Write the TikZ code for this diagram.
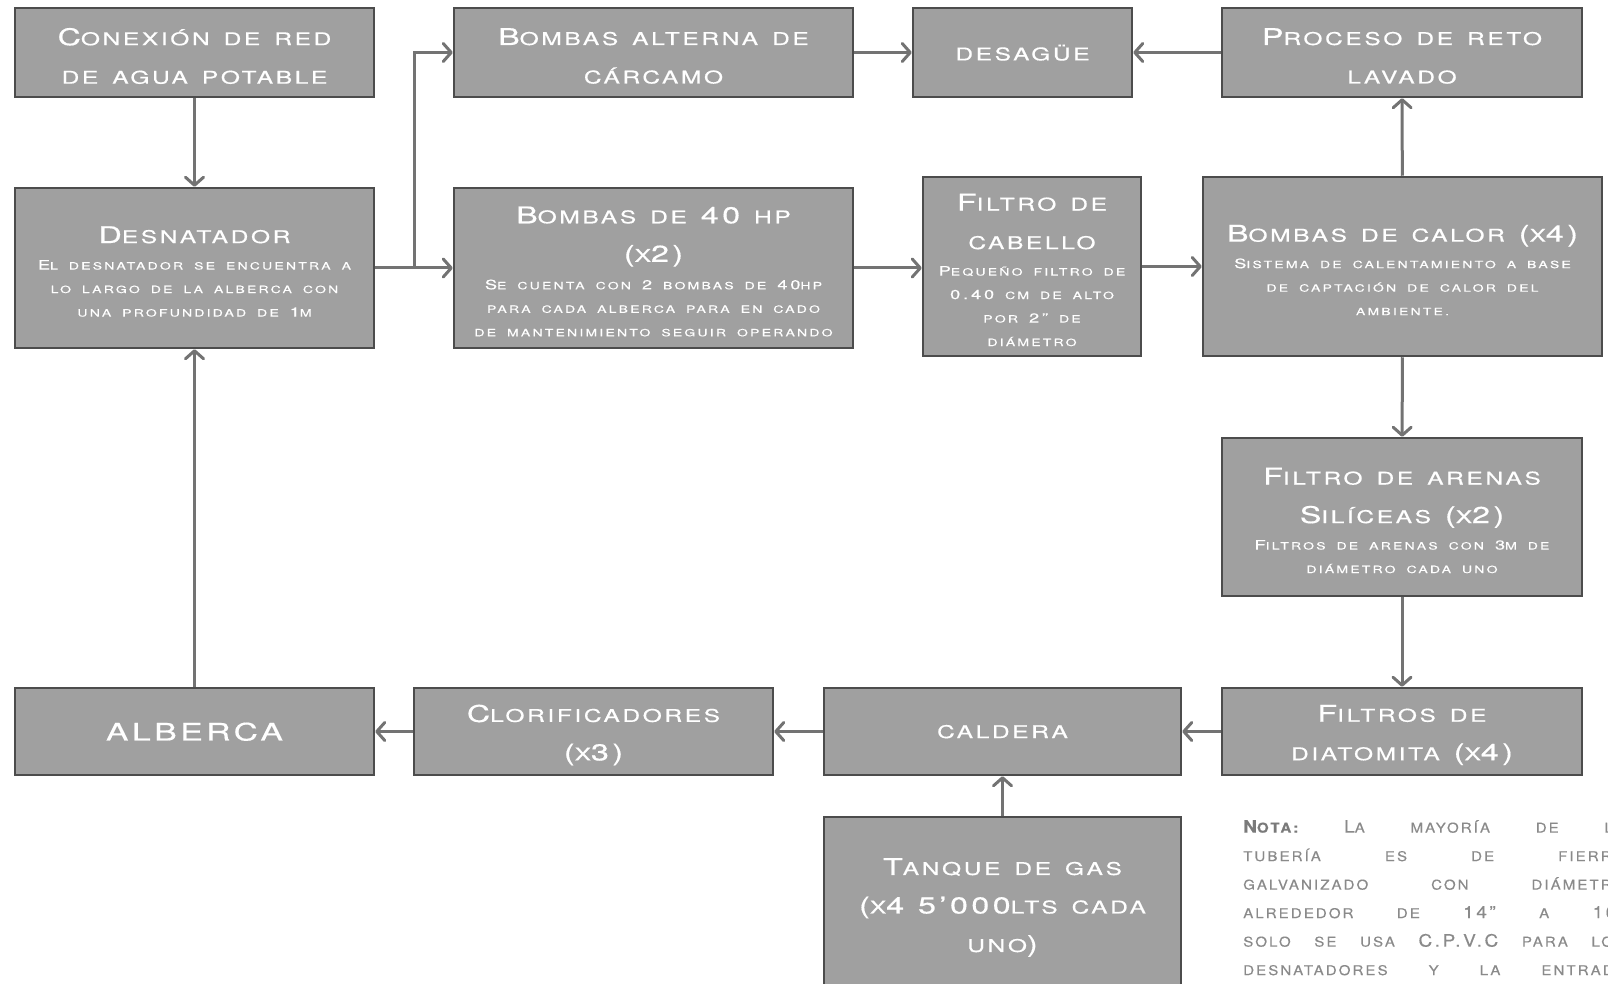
\documentclass[tikz,border=0pt]{standalone}
\usepackage{fontspec}
\usetikzlibrary{arrows.meta}
% wide, letter-spaced capitals; small capitals are set as smaller capitals
\newfontfamily\bank[FakeStretch=1.4,LetterSpace=15,FakeBold=0.6]{TeX Gyre Heros}
\newfontfamily\bankd[FakeStretch=1.4,LetterSpace=22,FakeBold=0.4]{TeX Gyre Heros}
\newfontfamily\banknote[FakeStretch=1.12,LetterSpace=15,FakeBold=0.3]{TeX Gyre Heros}
\definecolor{boxgray}{HTML}{A0A0A0}
\definecolor{edgegray}{HTML}{4C4C4C}
\definecolor{linegray}{HTML}{737373}
\definecolor{notegray}{HTML}{8A8A8A}
\definecolor{notedark}{HTML}{7A7A7A}
\newcommand\kbig{23}
\newcommand\ttl{\bank\fontsize{17.5}{38.5}\selectfont\spaceskip=14pt\renewcommand\kbig{23}}
\newcommand\dsc{\bankd\fontsize{10}{23.5}\selectfont\spaceskip=11pt\renewcommand\kbig{13}}
\newcommand\nte{\banknote\fontsize{13.5}{28.5}\selectfont\spaceskip=10pt plus 40pt minus 2pt\renewcommand\kbig{17}}
% full-size capital inside small-capital text
\newcommand\K[1]{{\fontsize{\kbig}{\kbig}\selectfont #1}}
% wide word gaps in the box titles
\newcommand\titlespace{\spaceskip=14pt\relax}
% lowers the text block a little inside its box
\newcommand\lowertext{\par\vspace{-7pt}}
\begin{document}
\begin{tikzpicture}[x=1pt,y=-1pt,
  box/.style={draw=edgegray,line width=2.5pt,fill=boxgray,text=white,
    inner sep=0pt,align=center,font=\ttl,
    execute at begin node=\titlespace,
    execute at end node=\lowertext},
  flow/.style={draw=linegray,line width=3pt,
    -{Straight Barb[length=8pt,width=18pt,round]}}]
\useasboundingbox (0,0) rectangle (1608,984);

% top row
\node[box,minimum width=359,minimum height=89,text width=355] (conex) at (194.5,52.5)
  {\K{C}ONEXIÓN DE RED\\ DE AGUA POTABLE};
\node[box,minimum width=399,minimum height=89,text width=395] (alterna) at (653.5,52.5)
  {\K{B}OMBAS ALTERNA DE\\ CÁRCAMO};
\node[box,minimum width=219,minimum height=89,text width=215] (desague) at (1022.5,52.5)
  {DESAGÜE};
\node[box,minimum width=360,minimum height=89,text width=355] (proceso) at (1402,52.5)
  {\K{P}ROCESO DE RETO\\ LAVADO};

% second row
\node[box,minimum width=359,minimum height=160,text width=355] (desnat) at (194.5,268)
  {\K{D}ESNATADOR\par\vspace{3pt}\dsc \K{E}L DESNATADOR SE ENCUENTRA A\\ LO LARGO DE LA ALBERCA CON\\ UNA PROFUNDIDAD DE \K{1}M\par};
\node[box,minimum width=399,minimum height=160,text width=395] (b40) at (653.5,268)
  {\K{B}OMBAS DE \K{40} HP\\ \K{(}X\K{2)}\par\vspace{4pt}\dsc \K{S}E CUENTA CON \K{2} BOMBAS DE \K{40}HP\\ PARA CADA ALBERCA PARA EN CADO\\ DE MANTENIMIENTO SEGUIR OPERANDO\par};
\node[box,minimum width=218,minimum height=179,text width=216] (cabello) at (1032,266.5)
  {\K{F}ILTRO DE\\ CABELLO\par\vspace{3pt}\dsc \K{P}EQUEÑO FILTRO DE\\ \K{0.40} CM DE ALTO\\ POR \K{2”} DE\\ DIÁMETRO\par};
\node[box,minimum width=399,minimum height=179,text width=397] (calor) at (1402.5,266.5)
  {\K{B}OMBAS DE CALOR \K{(}X\K{4)}\par\vspace{3pt}\dsc \K{S}ISTEMA DE CALENTAMIENTO A BASE\\ DE CAPTACIÓN DE CALOR DEL\\ AMBIENTE.\par};

% right column
\node[box,minimum width=360,minimum height=158,text width=355] (arenas) at (1402,517)
  {\K{F}ILTRO DE ARENAS\\ \K{S}ILÍCEAS \K{(}X\K{2)}\par\vspace{3pt}\dsc \K{F}ILTROS DE ARENAS CON \K{3}M DE\\ DIÁMETRO CADA UNO\par};

% bottom row
\node[box,minimum width=360,minimum height=87,text width=355] (diatom) at (1402,731.5)
  {\K{F}ILTROS DE\\ DIATOMITA \K{(}X\K{4)}};
\node[box,minimum width=357,minimum height=87,text width=355] (caldera) at (1002.5,731.5)
  {CALDERA};
\node[box,minimum width=359,minimum height=87,text width=355] (cloro) at (593.5,731.5)
  {\K{C}LORIFICADORES\\ \K{(}X\K{3)}};
\node[box,minimum width=359,minimum height=87,text width=355] (alberca) at (194.5,731.5)
  {{\fontsize{24}{24}\selectfont ALBERCA}};
\node[box,minimum width=357,minimum height=174,text width=355] (tanque) at (1002.5,904)
  {\K{T}ANQUE DE GAS\\ \K{(}X\K{4 5’000}LTS CADA\\ UNO\K{)}};

% note on the piping
\node[anchor=north west,inner sep=0pt,text width=382,align=justify,text=notegray,
  font=\nte] (nota) at (1243,820)
  {{\parfillskip=0pt \textcolor{notedark}{\bfseries\K{N}OTA:} \K{L}A MAYORÍA DE LA\linebreak TUBERÍA ES DE FIERRO\linebreak GALVANIZADO CON DIÁMETRO\linebreak ALREDEDOR DE \K{14”} A \K{16”}\linebreak SOLO SE USA \K{C.P.V.C} PARA LOS\linebreak DESNATADORES Y LA ENTRADA\par}};

% connectors
\coordinate (br) at ([xshift=39pt]desnat.east);
\draw[flow] (conex) -- (desnat);
\draw[flow] (desnat) -- (b40);
\draw[flow] (br) |- (alterna.west);
\draw[flow] (alterna) -- (desague);
\draw[flow] (proceso) -- (desague);
\draw[flow] (b40.east) -- (b40.east -| cabello.west);
\draw[flow] (cabello) -- (calor);
\draw[flow] (calor) -- (proceso);
\draw[flow] (calor) -- (arenas);
\draw[flow] (arenas) -- (diatom);
\draw[flow] (diatom) -- (caldera);
\draw[flow] (caldera) -- (cloro);
\draw[flow] (cloro) -- (alberca);
\draw[flow] (alberca) -- (desnat);
\draw[flow] (tanque) -- (caldera);
\end{tikzpicture}
\end{document}
